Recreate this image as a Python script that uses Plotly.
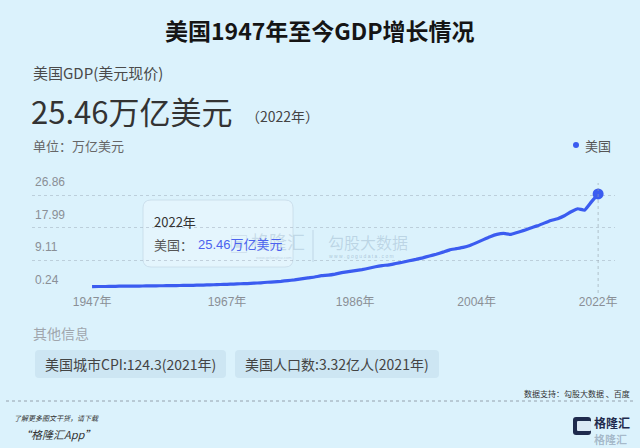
import plotly.graph_objects as go

# Donnees : PIB des Etats-Unis, dollars courants (万亿美元)
YEARS = list(range(1947, 2023))
GDP = [
    0.244, 0.269, 0.267, 0.300, 0.347, 0.367, 0.389, 0.391, 0.425, 0.449,
    0.474, 0.481, 0.521, 0.543, 0.562, 0.603, 0.638, 0.685, 0.743, 0.813,
    0.860, 0.940, 1.017, 1.073, 1.165, 1.279, 1.425, 1.545, 1.684, 1.873,
    2.082, 2.351, 2.627, 2.857, 3.207, 3.344, 3.634, 4.037, 4.339, 4.579,
    4.855, 5.236, 5.641, 5.963, 6.158, 6.520, 6.859, 7.287, 7.640, 8.073,
    8.577, 9.063, 9.631, 10.252, 10.582, 10.936, 11.458, 12.214, 13.037, 13.815,
    14.452, 14.713, 14.449, 14.992, 15.543, 16.197, 16.785, 17.527, 18.238, 18.745,
    19.543, 20.612, 21.433, 21.060, 23.315, 25.463,
]
X_TICKS = [1947, 1967, 1986, 2004, 2022]
Y_LABELS = [0.24, 9.11, 17.99, 26.86]
INFO_ITEMS = ["美国城市CPI:124.3(2021年)", "美国人口数:3.32亿人(2021年)"]

BG = "#dbf2fc"
BLUE = "#3b5cf0"
CJK = "Noto Sans CJK SC, Liberation Sans, sans-serif"
NUM = "Liberation Sans, Noto Sans CJK SC, sans-serif"
GRID_SHIFT = 1.71  # les lignes de grille sont un peu sous les libelles
CURSOR_TOP = 28.45  # haut de la ligne verticale du curseur

# zone de trace en pixels
L, R, T, B = 32, 615, 165, 293


def px(x):
    return (x - L) / (R - L)


def py(y):
    return (B - y) / (B - T)


fig = go.Figure()

fig.add_trace(go.Scatter(
    x=YEARS,
    y=GDP,
    mode="lines",
    line=dict(color=BLUE, width=3.2, shape="spline", smoothing=0.3),
    hoverinfo="skip",
    showlegend=False,
))
# point final (2022)
fig.add_trace(go.Scatter(
    x=YEARS[-1:],
    y=GDP[-1:],
    mode="markers",
    marker=dict(color=BLUE, size=11),
    hoverinfo="skip",
    showlegend=False,
))

fig.update_xaxes(
    range=[1938.1, 2024.5],
    tickvals=X_TICKS,
    ticktext=[f"{y}年" for y in X_TICKS],
    tickfont=dict(family=NUM, size=12, color="#8a8f96"),
    showgrid=False,
    zeroline=False,
    showline=False,
    fixedrange=True,
)
fig.update_yaxes(
    range=[-1.5, 33.35],
    tickvals=[v - GRID_SHIFT for v in Y_LABELS],
    ticktext=[f"{v:.2f}" for v in Y_LABELS],
    ticklabelposition="inside top",
    ticklabelshift=-5,
    ticklabelstandoff=0,
    tickfont=dict(family=NUM, size=12, color="#8a8f96"),
    showgrid=True,
    gridcolor="rgba(150,165,180,0.45)",
    griddash="dot",
    gridwidth=1,
    zeroline=False,
    showline=False,
    fixedrange=True,
)

shapes = []
annotations = []


def text(x, y, s, size, color, xanchor="left", family=CJK, bold=False, italic=False):
    if bold:
        s = f"<b>{s}</b>"
    if italic:
        s = f"<i>{s}</i>"
    annotations.append(dict(
        x=px(x), y=py(y), xref="paper", yref="paper", text=s, showarrow=False,
        xanchor=xanchor, yanchor="middle",
        font=dict(family=family, size=size, color=color),
    ))


def rrect(x0, y0, x1, y1, r, fill, line="rgba(0,0,0,0)", lw=0):
    # rectangle arrondi en coordonnees papier
    X0, X1 = px(x0), px(x1)
    Y0, Y1 = py(y0), py(y1)
    rx, ry = r / (R - L), r / (B - T)
    path = (
        f"M {X0 + rx},{Y0} L {X1 - rx},{Y0} Q {X1},{Y0} {X1},{Y0 - ry} "
        f"L {X1},{Y1 + ry} Q {X1},{Y1} {X1 - rx},{Y1} L {X0 + rx},{Y1} "
        f"Q {X0},{Y1} {X0},{Y1 + ry} L {X0},{Y0 - ry} Q {X0},{Y0} {X0 + rx},{Y0} Z"
    )
    shapes.append(dict(type="path", path=path, xref="paper", yref="paper",
                       fillcolor=fill, line=dict(color=line, width=lw), layer="below"))


# En-tete
text(320, 30, "美国1947年至今GDP增长情况", 23, "#151515", xanchor="center", bold=True)
text(31, 72, "美国GDP(美元现价)", 15, "#4a4a4a")
text(29, 110, "25.46万亿美元", 31, "#333333")
text(244, 116, "（2022年）", 14, "#444444")
text(31, 145, "单位：万亿美元", 13, "#666666")
text(583, 145, "美国", 13, "#555555")
shapes.append(dict(type="circle", xref="paper", yref="paper",
                   x0=px(573), x1=px(579), y0=py(148), y1=py(142),
                   fillcolor=BLUE, line=dict(width=0)))

# ligne verticale pointillee sur 2022
shapes.append(dict(type="line", xref="x", yref="y", x0=2022, x1=2022,
                   y0=-1.5, y1=CURSOR_TOP,
                   line=dict(color="rgba(150,160,170,0.6)", width=1, dash="dot")))

# filigrane
text(227, 243, "▣", 20, "rgba(110,140,170,0.22)")
text(249, 241, "格隆汇", 18, "rgba(110,140,170,0.25)")
text(254, 257, "www.gelonghui.com", 4, "rgba(110,140,170,0.35)", family=NUM)
shapes.append(dict(type="line", xref="paper", yref="paper",
                   x0=px(313), x1=px(313), y0=py(230), y1=py(262),
                   line=dict(color="rgba(110,140,170,0.25)", width=1)))
text(326, 242, "勾股大数据", 16, "rgba(110,140,170,0.28)")
text(327, 256, "w w w . g o g u d a t a . c o m", 5, "rgba(110,140,170,0.45)", family=NUM)

# infobulle figee
rrect(143, 200, 293, 267, 8, "rgba(240,249,255,0.45)", "rgba(190,210,225,0.6)", 1)
text(152, 221, "2022年", 13, "#333333")
text(152, 244, "美国：", 13, "#555555")
text(196, 244, "25.46万亿美元", 13, "#4c63ef", family=NUM)

# Autres informations
text(31, 333, "其他信息", 14, "#a0a6ad")
rrect(35, 350, 226, 378, 4, "#cde6f3")
rrect(235, 350, 439, 378, 4, "#cde6f3")
text(130.5, 364, INFO_ITEMS[0], 14, "#444444", xanchor="center")
text(337, 364, INFO_ITEMS[1], 14, "#444444", xanchor="center")
text(632, 393, "数据支持：勾股大数据 、百度", 8, "#333333", xanchor="right")

# pied de page
shapes.append(dict(type="line", xref="paper", yref="paper",
                   x0=px(6), x1=px(634), y0=py(401), y1=py(401),
                   line=dict(color="rgba(120,130,140,0.7)", width=1, dash="dot")))
text(12, 418, "了解更多图文干货，请下载", 7, "#333333", italic=True)
text(18, 434, "“格隆汇App”", 11, "#333333", italic=True)
rrect(573, 417, 591, 435, 3, "#1f2b4d")
rrect(577, 421, 591, 431, 1, "#dbe9f5")
text(592, 422, "格隆汇", 12, "#1f2b4d", bold=True)
text(592, 439, "格隆汇", 11, "rgba(31,43,77,0.3)", bold=True)

fig.update_layout(
    width=640,
    height=448,
    paper_bgcolor=BG,
    plot_bgcolor=BG,
    margin=dict(l=L, r=640 - R, t=T, b=448 - B, pad=0),
    shapes=shapes,
    annotations=annotations,
    showlegend=False,
)

fig.write_html(
    "out.html",
    config={"displayModeBar": False},
    post_script="document.body.style.margin='0';",
)
